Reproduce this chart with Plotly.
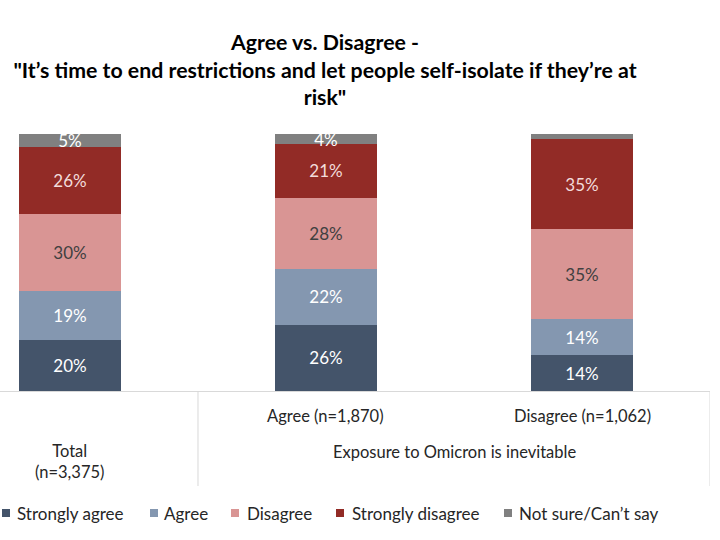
import plotly.graph_objects as go

groups = ["Total", "Agree", "Disagree"]
group_labels = ["Total<br>(n=3,375)", "Agree (n=1,870)", "Disagree (n=1,062)"]
outer_label = "Exposure to Omicron is inevitable"

series = ["Strongly agree", "Agree", "Disagree", "Strongly disagree", "Not sure/Can\u2019t say"]
strongly_agree = [20, 26, 14]
agree = [19, 22, 14]
disagree = [30, 28, 35]
strongly_disagree = [26, 21, 35]
not_sure = [5, 4, 2]

colors = ["#44546A", "#8497B0", "#D99594", "#922B26", "#808080"]
label_colors = ["#FFFFFF", "#FFFFFF", "#404040", "#F2DCDB", "#FFFFFF"]

title_text = ("<b>Agree vs. Disagree -<br>\"It\u2019s time to end restrictions and let people self-isolate if they\u2019re at<br>risk\"</b>")

FONT = "Lato"
TXT = "#262626"
fig = go.Figure()
for name, vals, col, lc in zip(series, [strongly_agree, agree, disagree, strongly_disagree, not_sure], colors, label_colors):
    fig.add_trace(go.Bar(
        name=name, x=groups, y=vals, marker_color=col, marker_line_width=0,
        width=0.395, showlegend=False,
        text=[f"{v}%" if v >= 3 else "" for v in vals],
        textposition="inside", insidetextanchor="middle", textangle=0,
        constraintext="none", cliponaxis=False,
        textfont=dict(color=lc, size=17, family=FONT),
    ))

PLOT_W = 710
plot_h = 540 - 134 - 149
fig.update_layout(
    width=720, height=540,
    barmode="stack", barnorm="percent",
    margin=dict(l=0, r=720 - PLOT_W, t=134, b=149, autoexpand=False),
    paper_bgcolor="white", plot_bgcolor="white",
    font=dict(family=FONT, color=TXT, size=16.5),
    title=dict(text=title_text, x=325/720, xref="container", xanchor="center",
               y=1 - 50/540, yref="container", yanchor="top",
               font=dict(family=FONT, size=21.3, color="#000000")),
    xaxis=dict(type="category", range=[-0.2734, 2.5], showticklabels=False,
               showline=True, linecolor="#D9D9D9", linewidth=1, showgrid=False, zeroline=False),
    yaxis=dict(range=[0, 100], visible=False),
)

# divider lines under the axis
for xv in [0.5, 2.5]:
    fig.add_shape(type="line", xref="x", yref="paper", x0=xv, x1=xv, y0=0, y1=-95/plot_h,
                  line=dict(color="#D9D9D9", width=1))

# category labels
fig.add_annotation(x=groups[0], xref="x", y=0, yref="paper", yshift=-70, text=group_labels[0],
                   showarrow=False, yanchor="middle", font=dict(size=16.5))
for g, lab in zip(groups[1:], group_labels[1:]):
    fig.add_annotation(x=g, xref="x", y=0, yref="paper", yshift=-25, text=lab,
                       showarrow=False, yanchor="middle", font=dict(size=16.5))
fig.add_annotation(x=1.5, xref="x", y=0, yref="paper", yshift=-61, text=outer_label,
                   showarrow=False, yanchor="middle", font=dict(size=16.5))

# legend row (swatch + label per series)
legend_swatch_px = [2, 150, 231, 336, 504]
legend_text_px = [15, 162, 245, 350, 517]
leg_y = -122 / plot_h
sw = 8
for name, col, sx, tx in zip(series, colors, legend_swatch_px, legend_text_px):
    fig.add_shape(type="rect", xref="paper", yref="paper",
                  x0=sx / PLOT_W, x1=(sx + sw) / PLOT_W,
                  y0=leg_y - (sw / 2) / plot_h, y1=leg_y + (sw / 2) / plot_h,
                  fillcolor=col, line_width=0)
    fig.add_annotation(x=tx / PLOT_W, xref="paper", y=leg_y, yref="paper", text=name,
                       showarrow=False, xanchor="left", yanchor="middle",
                       font=dict(size=17, color=TXT))

fig.write_html("out.html", config={"displayModeBar": False},
               post_script="document.body.style.margin='0';")
